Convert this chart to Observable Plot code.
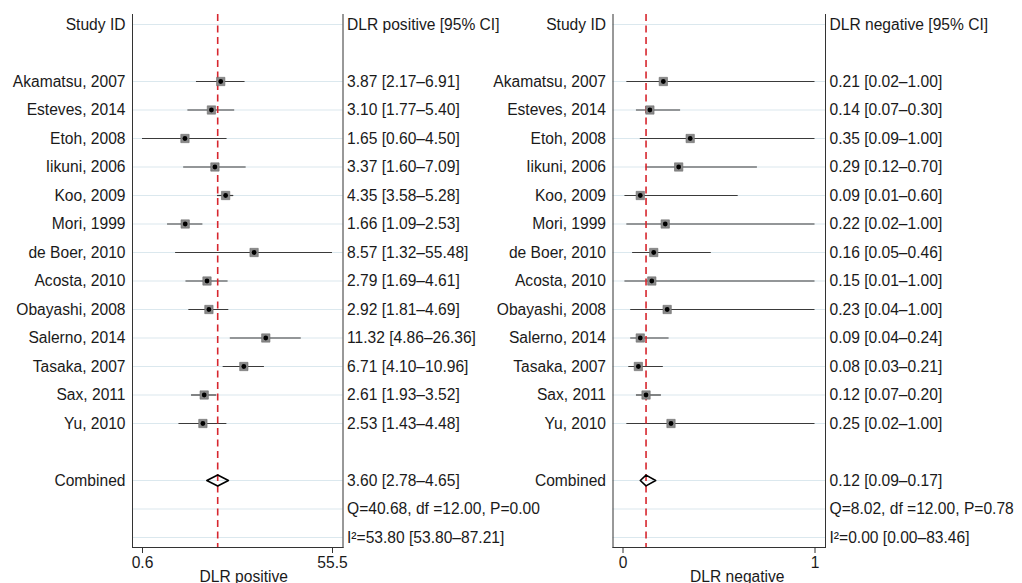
<!DOCTYPE html>
<html>
<head>
<meta charset="utf-8">
<script src="https://cdn.jsdelivr.net/npm/d3@7"></script>
<script src="https://cdn.jsdelivr.net/npm/@observablehq/plot@0.6"></script>
<style>
  html, body { margin: 0; padding: 0; background: #fff; }
  #wrap { position: relative; width: 1022px; height: 583px; overflow: hidden; }
  #wrap svg { position: absolute; left: 0; top: 0; background: transparent; overflow: visible; }
</style>
</head>
<body>
<div id="wrap"></div>
<script>
// ---- data ----
const studies = ["Akamatsu, 2007", "Esteves, 2014", "Etoh, 2008", "Iikuni, 2006", "Koo, 2009", "Mori, 1999",
  "de Boer, 2010", "Acosta, 2010", "Obayashi, 2008", "Salerno, 2014", "Tasaka, 2007", "Sax, 2011", "Yu, 2010"];
const posEst = [3.87, 3.10, 1.65, 3.37, 4.35, 1.66, 8.57, 2.79, 2.92, 11.32, 6.71, 2.61, 2.53];
const posLo  = [2.17, 1.77, 0.60, 1.60, 3.58, 1.09, 1.32, 1.69, 1.81, 4.86, 4.10, 1.93, 1.43];
const posHi  = [6.91, 5.40, 4.50, 7.09, 5.28, 2.53, 55.48, 4.61, 4.69, 26.36, 10.96, 3.52, 4.48];
const negEst = [0.21, 0.14, 0.35, 0.29, 0.09, 0.22, 0.16, 0.15, 0.23, 0.09, 0.08, 0.12, 0.25];
const negLo  = [0.02, 0.07, 0.09, 0.12, 0.01, 0.02, 0.05, 0.01, 0.04, 0.04, 0.03, 0.07, 0.02];
const negHi  = [1.00, 0.30, 1.00, 0.70, 0.60, 1.00, 0.46, 1.00, 1.00, 0.24, 0.21, 0.20, 1.00];
const posCombined = [3.60, 2.78, 4.65];
const negCombined = [0.12, 0.09, 0.17];
const posHet = ["Q=40.68, df =12.00, P=0.00", "I\u00B2=53.80 [53.80\u201387.21]"];
const negHet = ["Q=8.02, df =12.00, P=0.78", "I\u00B2=0.00 [0.00\u201383.46]"];
const posTicks = [0.6, 55.5];
const posTickLabels = ["0.6", "55.5"];
const negTicks = [0, 1];
const negTickLabels = ["0", "1"];

// ---- row layout ----
const firstStudyRow = 2;
const combinedRow = firstStudyRow + studies.length + 1; // 16
const nRows = combinedRow + 3; // 19

const font = "'Liberation Sans', Arial, Helvetica, sans-serif";
const textColor = "#1a1a1a";
const fmt = v => v.toFixed(2);

function panel(opts) {
  const {est, lo, hi, comb, het, header, axisLabel, xScale, ticksList, tickLabels, marginLeft, marginRight, labelDx} = opts;
  const rows = studies.map((s, i) => ({row: firstStudyRow + i, name: s, est: est[i], lo: lo[i], hi: hi[i]}));
  const leftLabels = new Array(nRows).fill("");
  const rightLabels = new Array(nRows).fill("");
  leftLabels[0] = "Study ID";
  rightLabels[0] = header;
  rows.forEach(r => {
    leftLabels[r.row] = r.name;
    rightLabels[r.row] = `${fmt(r.est)} [${fmt(r.lo)}\u2013${fmt(r.hi)}]`;
  });
  leftLabels[combinedRow] = "Combined";
  rightLabels[combinedRow] = `${fmt(comb[0])} [${fmt(comb[1])}\u2013${fmt(comb[2])}]`;
  rightLabels[combinedRow + 1] = het[0];
  rightLabels[combinedRow + 2] = het[1];
  const gridRows = [0, ...rows.map(r => r.row), combinedRow, combinedRow + 1, combinedRow + 2];
  const allRows = d3.range(nRows);
  const tickData = ticksList.map((t, i) => ({t, label: tickLabels[i]}));

  const dh = 0.19; // diamond half height in rows
  const diamond = [
    {x: comb[1], y: combinedRow},
    {x: comb[0], y: combinedRow - dh},
    {x: comb[2], y: combinedRow},
    {x: comb[0], y: combinedRow + dh},
    {x: comb[1], y: combinedRow}
  ];

  return Plot.plot({
    width: 1022,
    height: 583,
    marginTop: 14,
    marginBottom: 36,
    marginLeft,
    marginRight,
    style: {fontFamily: font, fontSize: "15.6px", color: textColor, background: "transparent", overflow: "visible"},
    x: xScale,
    y: {type: "linear", domain: [0, nRows - 1], range: [24, 537]},
    marks: [
      Plot.ruleY(gridRows, {y: d => d, stroke: "#dbe8ee", strokeWidth: 1.2}),
      Plot.ruleY(rows, {y: "row", x1: "lo", x2: "hi", stroke: "#3a3a3a", strokeWidth: 1.2}),
      Plot.ruleX([comb[0]], {stroke: "#d7262e", strokeWidth: 1.6, strokeDasharray: "7,4.5"}),
      Plot.dot(rows, {x: "est", y: "row", symbol: "square", r: 4.7, fill: "#8a8a8a", stroke: "#6a6a6a", strokeWidth: 0.6}),
      Plot.dot(rows, {x: "est", y: "row", r: 2.4, fill: "#000"}),
      Plot.line(diamond, {x: "x", y: "y", stroke: "#000", strokeWidth: 1.6, curve: "linear"}),
      Plot.frame({anchor: "left", stroke: "#333"}),
      Plot.frame({anchor: "right", stroke: "#333"}),
      Plot.frame({anchor: "bottom", stroke: "#333"}),
      Plot.axisY({anchor: "left", ticks: allRows, tickSize: 0, tickPadding: 7, tickFormat: i => leftLabels[i], fill: textColor, label: null}),
      Plot.axisY({anchor: "right", ticks: allRows, tickSize: 0, tickPadding: 4, tickFormat: i => rightLabels[i], fill: textColor, textAnchor: "start", label: null}),
      Plot.axisX({anchor: "bottom", ticks: ticksList, tickSize: 6, tickFormat: () => "", stroke: "#333", label: null}),
      Plot.text(tickData, {x: "t", text: "label", frameAnchor: "bottom", lineAnchor: "top", dy: 9, fill: textColor, fontSize: 15.6}),
      Plot.text([axisLabel], {frameAnchor: "bottom", dy: 29, dx: labelDx, lineAnchor: "middle", fill: textColor, fontSize: 15.6})
    ]
  });
}

const left = panel({
  est: posEst, lo: posLo, hi: posHi, comb: posCombined, het: posHet,
  header: "DLR positive [95% CI]", axisLabel: "DLR positive",
  xScale: {type: "log", domain: [0.6, 55.5], insetLeft: 10, insetRight: 10.5},
  ticksList: posTicks, tickLabels: posTickLabels,
  marginLeft: 132, marginRight: 1022 - 342.5, labelDx: 6
});
const right = panel({
  est: negEst, lo: negLo, hi: negHi, comb: negCombined, het: negHet,
  header: "DLR negative [95% CI]", axisLabel: "DLR negative",
  xScale: {type: "linear", domain: [0, 1], insetLeft: 10, insetRight: 10.5},
  ticksList: negTicks, tickLabels: negTickLabels,
  marginLeft: 612.5, marginRight: 1022 - 825, labelDx: 18
});
const wrap = document.getElementById("wrap");
wrap.appendChild(left);
wrap.appendChild(right);
</script>
</body>
</html>
